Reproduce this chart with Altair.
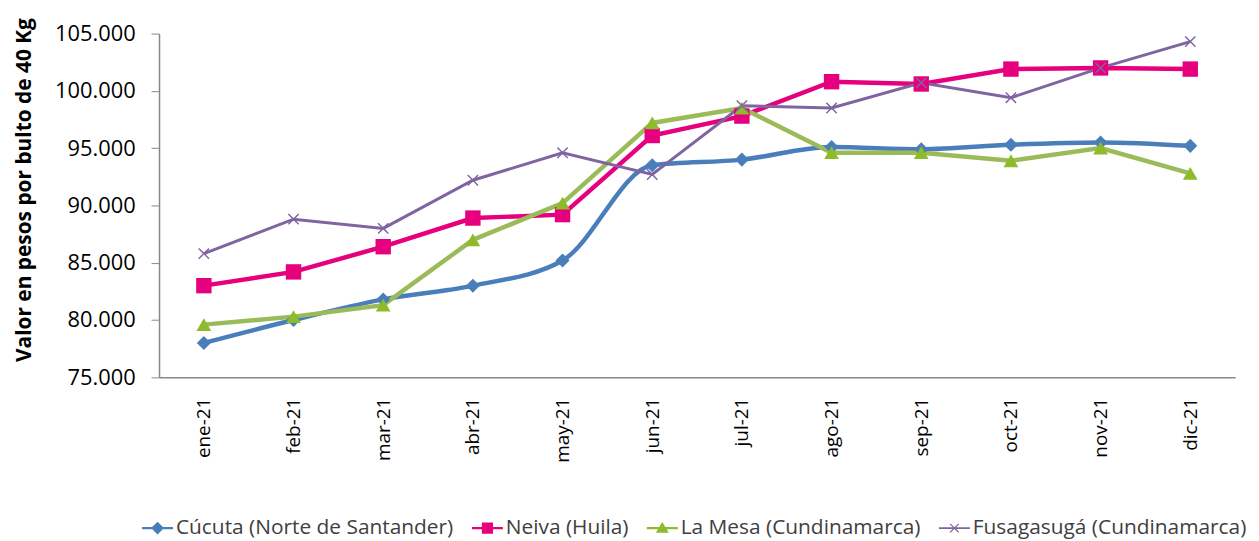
import altair as alt
import pandas as pd

months = ["ene-21", "feb-21", "mar-21", "abr-21", "may-21", "jun-21",
          "jul-21", "ago-21", "sep-21", "oct-21", "nov-21", "dic-21"]

series_names = ["Cúcuta (Norte de Santander)", "Neiva (Huila)",
                "La Mesa (Cundinamarca)", "Fusagasugá (Cundinamarca)"]

cucuta = [78000, 80000, 81800, 83000, 85200, 93500, 94000, 95100, 94900, 95300, 95500, 95200]
neiva = [83000, 84200, 86400, 88900, 89200, 96100, 97800, 100800, 100600, 101900, 102000, 101900]
la_mesa = [79600, 80300, 81300, 87000, 90200, 97200, 98500, 94600, 94600, 93900, 95000, 92800]
fusa = [85800, 88800, 88000, 92200, 94600, 92700, 98700, 98500, 100700, 99400, 102000, 104300]

line_colors = ["#4a7ebb", "#e6007e", "#9bbb59", "#8064a2"]
marker_colors = ["#4a7ebb", "#e6007e", "#8dbb2a", "#8064a2"]
x_poly = ("M-1,-0.82L-0.82,-1L0,-0.18L0.82,-1L1,-0.82L0.18,0L1,0.82L0.82,1"
          "L0,0.18L-0.82,1L-1,0.82L-0.18,0Z")
shapes = ["diamond", "square", "triangle-up", x_poly]
line_widths = [4.5, 4.5, 4.5, 3]
interps = ["monotone", "linear", "linear", "linear"]
marker_sizes = [200, 240, 220, 130]

# legend glyphs: line segment with marker
leg_line = "M-1.8,-0.14L1.8,-0.14L1.8,0.14L-1.8,0.14Z"
leg_line_thin = "M-1.8,-0.09L1.8,-0.09L1.8,0.09L-1.8,0.09Z"
leg_glyphs = [
    leg_line + "M0,-0.75L0.75,0L0,0.75L-0.75,0Z",
    leg_line + "M-0.65,-0.65L0.65,-0.65L0.65,0.65L-0.65,0.65Z",
    leg_line + "M0,-0.7L0.75,0.55L-0.75,0.55Z",
    leg_line_thin + "M-0.55,-0.45L-0.45,-0.55L0,-0.1L0.45,-0.55L0.55,-0.45L0.1,0"
    "L0.55,0.45L0.45,0.55L0,0.1L-0.45,0.55L-0.55,0.45L-0.1,0Z",
]

rows = []
for name, vals in zip(series_names, [cucuta, neiva, la_mesa, fusa]):
    for m, v in zip(months, vals):
        rows.append({"mes": m, "valor": v, "serie": name})
df = pd.DataFrame(rows)

FONT = "Open Sans"

x_enc = alt.X("mes:O", sort=months,
              scale=alt.Scale(type="point", padding=0.5),
              axis=alt.Axis(title=None, labelAngle=-90, labelFontSize=19,
                            labelColor="#000000", labelFont=FONT, ticks=False,
                            labelPadding=20, domainColor="#888888",
                            domainWidth=1.5, grid=False))
y_enc = alt.Y("valor:Q",
              scale=alt.Scale(domain=[75000, 105000], nice=False, zero=False),
              axis=alt.Axis(title="Valor en pesos por bulto de 40 Kg",
                            titleFontSize=21, titleFont=FONT, titleFontWeight="bold",
                            titleColor="#000000", titlePadding=20, titleY=157,
                            values=[75000, 80000, 85000, 90000, 95000, 100000, 105000],
                            labelExpr="replace(format(datum.value, ',.0f'), ',', '.')",
                            labelFontSize=22, labelFont=FONT, labelColor="#000000",
                            labelPadding=16, tickSize=8, tickColor="#888888",
                            domainColor="#888888", domainWidth=1.5, grid=False))

layers = []
for i, name in enumerate(series_names):
    sub = df[df.serie == name]
    layers.append(
        alt.Chart(sub).mark_line(
            color=line_colors[i], strokeWidth=line_widths[i],
            interpolate=interps[i]
        ).encode(x=x_enc, y=y_enc)
    )
for i, name in enumerate(series_names):
    sub = df[df.serie == name]
    layers.append(
        alt.Chart(sub).mark_point(
            filled=True, opacity=1, color=marker_colors[i],
            shape=shapes[i], size=marker_sizes[i]
        ).encode(x=x_enc, y=y_enc)
    )

leg = alt.Legend(
    title=None, orient="none", direction="horizontal",
    legendX=-12, legendY=487, symbolOpacity=1, symbolSize=300,
)

legend_layer = alt.Chart(df).mark_point(filled=True, opacity=0).encode(
    x=x_enc, y=y_enc,
    color=alt.Color("serie:N", scale=alt.Scale(domain=series_names, range=marker_colors),
                    legend=leg),
    shape=alt.Shape("serie:N", scale=alt.Scale(domain=series_names, range=leg_glyphs),
                    legend=leg),
)
layers.append(legend_layer)

chart = alt.layer(*layers).properties(
    width=1083, height=346,
    autosize=alt.AutoSizeParams(type="none"),
    padding={"left": 152, "top": 24, "right": 16, "bottom": 163},
).configure_view(stroke=None).configure_legend(
    labelFont=FONT, labelFontSize=21, labelColor="#404040",
    columnPadding=14, labelLimit=400, labelOffset=8,
)

chart.save("out.html", embed_options={"renderer": "svg", "actions": False})
